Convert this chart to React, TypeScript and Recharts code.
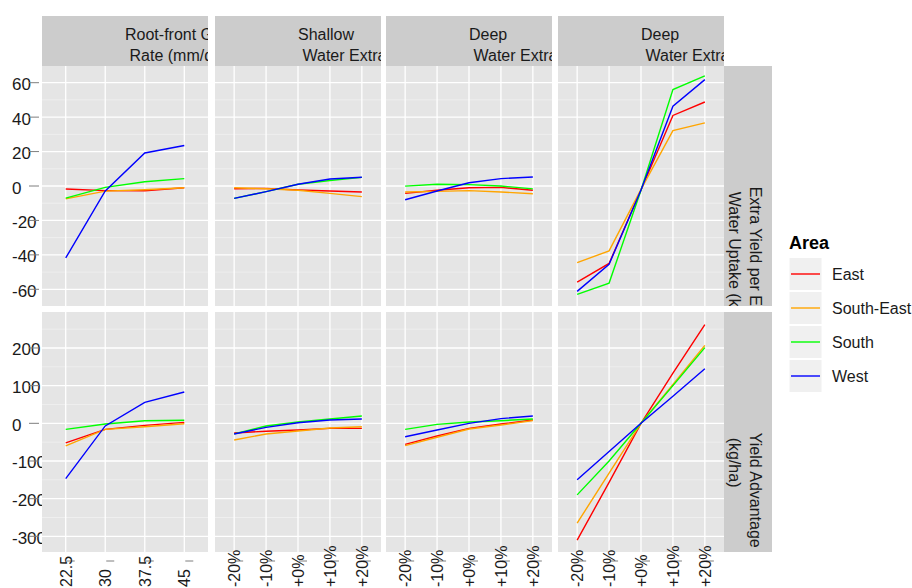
import React from "react";
import { LineChart, Line, XAxis, YAxis, CartesianGrid } from "recharts";

const areas = ["East", "South-East", "South", "West"];
const areaColors = ["#FF0000", "#FFA500", "#00FF00", "#0000FF"];

const growthRates = ["22.5", "30", "37.5", "45"];
const extractionLevels = ["-20%", "-10%", "+0%", "+10%", "+20%"];

const columnLabels = [
  ["Root-front Growth", "Rate (mm/day)"],
  ["Shallow", "Water Extraction"],
  ["Deep", "Water Extraction"],
  ["Deep", "Water Extraction Efficiency"],
];
const rowLabels = [
  ["Extra Yield per Extra", "Water Uptake (kg/ha/mm)"],
  ["Yield Advantage", "(kg/ha)"],
];

const uptakeTicks = [-60, -40, -20, 0, 20, 40, 60];
const uptakeMinor = [-50, -30, -10, 10, 30, 50];
const advantageTicks = [-300, -200, -100, 0, 100, 200];
const advantageMinor = [-250, -150, -50, 50, 150, 250];

// extra yield per extra water uptake
const rootEastUptake = [-1.7, -2.7, -2.8, -1];
const rootSouthEastUptake = [-7.5, -3, -2.2, -1];
const rootSouthUptake = [-7, -0.8, 2.5, 4.3];
const rootWestUptake = [-41.8, -2.9, 19.2, 23.5];

const shallowEastUptake = [-1.6, -1.4, -2.3, -2.9, -3.5];
const shallowSouthEastUptake = [-1, -1.6, -2.5, -4.3, -6.2];
const shallowSouthUptake = [-7.2, -3.3, 1, 3.2, 5];
const shallowWestUptake = [-7.2, -3.3, 1, 4.1, 5.1];

const deepEastUptake = [-4.3, -2.5, -1, -0.8, -2.5];
const deepSouthEastUptake = [-3.5, -3.1, -2.7, -3.5, -4.5];
const deepSouthUptake = [-0.1, 1, 0.8, 0, -1.7];
const deepWestUptake = [-8, -2.9, 1.9, 4.3, 5.2];

const effEastUptake = [-55.8, -45, -2.3, 41, 48.8];
const effSouthEastUptake = [-44.5, -37.7, -2, 32.2, 36.7];
const effSouthUptake = [-63, -56.4, -2.5, 56, 64];
const effWestUptake = [-61.2, -45.5, -2.3, 46.3, 61.8];

// yield advantage
const rootEastAdv = [-52, -16, -5.5, 2.5];
const rootSouthEastAdv = [-60, -16, -9, -1];
const rootSouthAdv = [-16, -2, 7, 8];
const rootWestAdv = [-147, -7, 55.7, 83];

const shallowEastAdv = [-25.7, -21, -17.7, -13.3, -13.3];
const shallowSouthEastAdv = [-44.3, -28.4, -20.4, -12.4, -9];
const shallowSouthAdv = [-28, -7, 3.5, 11.4, 19.4];
const shallowWestAdv = [-28.4, -10.7, 1.6, 8.8, 11.4];

const deepEastAdv = [-55.8, -33.6, -13.3, -1.8, 8.8];
const deepSouthEastAdv = [-59.4, -37, -15, -4.5, 7];
const deepSouthAdv = [-16, -2.7, 3.5, 7, 11.4];
const deepWestAdv = [-35.5, -17.7, 0, 12.4, 19.4];

const effEastAdv = [-310, -157, 0, 133, 262];
const effSouthEastAdv = [-265, -132, 0, 103, 207];
const effSouthAdv = [-190, -100, 0, 100, 201];
const effWestAdv = [-150, -75, 0, 72, 145];

const panelValues = [
  [
    [rootEastUptake, rootSouthEastUptake, rootSouthUptake, rootWestUptake],
    [shallowEastUptake, shallowSouthEastUptake, shallowSouthUptake, shallowWestUptake],
    [deepEastUptake, deepSouthEastUptake, deepSouthUptake, deepWestUptake],
    [effEastUptake, effSouthEastUptake, effSouthUptake, effWestUptake],
  ],
  [
    [rootEastAdv, rootSouthEastAdv, rootSouthAdv, rootWestAdv],
    [shallowEastAdv, shallowSouthEastAdv, shallowSouthAdv, shallowWestAdv],
    [deepEastAdv, deepSouthEastAdv, deepSouthAdv, deepWestAdv],
    [effEastAdv, effSouthEastAdv, effSouthAdv, effWestAdv],
  ],
];

const FONT = "'Liberation Sans', Arial, Helvetica, sans-serif";
const COL_X = [42, 215, 386, 558];
const ROW_Y = [66, 312];
const PW = 166;
const PH = 240;
const Y_AXIS_W = 42;
const X_AXIS_H = 36;

const rowAxes = [
  { domain: [-69.7, 69.7], ticks: uptakeTicks, minor: uptakeMinor },
  { domain: [-341.6, 295.5], ticks: advantageTicks, minor: advantageMinor },
];

const YTick = (props: any) => {
  const { y, payload } = props;
  return (
    <g>
      <svg x={0} y={y - 14} width={Y_AXIS_W} height={28} overflow="hidden">
        <text x={12} y={21.5} fontSize={17} fontFamily={FONT} fill="#1A1A1A">
          {payload.value}
        </text>
      </svg>
      <line x1={29} x2={39} y1={y} y2={y} stroke="#7F7F7F" strokeWidth={1} />
    </g>
  );
};

const makeXTick = (cats: string[]) => (props: any) => {
  const { x, payload } = props;
  return (
    <g>
      <line x1={x + 1} x2={x + 9} y1={PH + 9} y2={PH + 9} stroke="#7F7F7F" strokeWidth={1} />
      <text
        transform={`translate(${x + 6}, ${PH + 35}) rotate(-90)`}
        textAnchor="start"
        fontSize={16}
        fontFamily={FONT}
        fill="#1A1A1A"
      >
        {cats[payload.value]}
      </text>
    </g>
  );
};

function Panel({ row, col }: { row: number; col: number }) {
  const cats = col === 0 ? growthRates : extractionLevels;
  const series = panelValues[row][col];
  const data = cats.map((label, i) => {
    const o: any = { i, label };
    areas.forEach((a, k) => {
      o[a] = series[k][i];
    });
    return o;
  });
  const left = col === 0 ? Y_AXIS_W : 0;
  const bottom = row === 1 ? X_AXIS_H : 0;
  const width = PW + left;
  const height = PH + bottom;
  const axis = rowAxes[row];
  const idx = cats.map((_, i) => i);

  return (
    <div style={{ position: "absolute", left: COL_X[col] - left, top: ROW_Y[row], width, height }}>
      <LineChart width={width} height={height} data={data} margin={{ top: 0, right: 0, bottom: 0, left: 0 }}>
        <CartesianGrid
          horizontalValues={axis.minor}
          vertical={false}
          stroke="#F2F2F2"
          strokeWidth={0.7}
          fill="#E5E5E5"
          fillOpacity={1}
        />
        <CartesianGrid horizontalValues={axis.ticks} verticalValues={idx} stroke="#FFFFFF" strokeWidth={1.3} />
        <XAxis
          type="number"
          dataKey="i"
          domain={[-0.6, cats.length - 0.4]}
          ticks={idx}
          interval={0}
          hide={row !== 1}
          height={X_AXIS_H}
          axisLine={false}
          tickLine={false}
          tick={makeXTick(cats)}
        />
        <YAxis
          type="number"
          domain={axis.domain}
          ticks={axis.ticks}
          interval={0}
          hide={col !== 0}
          width={Y_AXIS_W}
          axisLine={false}
          tickLine={false}
          allowDataOverflow
          tick={YTick}
        />
        {areas.map((a, k) => (
          <Line
            key={a}
            type="linear"
            dataKey={a}
            stroke={areaColors[k]}
            strokeWidth={1.4}
            dot={false}
            isAnimationActive={false}
          />
        ))}
      </LineChart>
    </div>
  );
}

export default function App() {
  return (
    <div style={{ position: "absolute", left: 0, top: 0, width: 912, height: 588, background: "#FFFFFF", fontFamily: FONT }}>
      <svg style={{ position: "absolute", left: 0, top: 0 }} width={912} height={588}>
        {columnLabels.map((lines, c) => (
          <svg key={c} x={COL_X[c]} y={16} width={PW} height={50} overflow="hidden">
            <rect x={0} y={0} width={PW} height={50} fill="#CCCCCC" />
            <text x={PW / 2} y={23.5} fontSize={16} fontFamily={FONT} fill="#1A1A1A">
              {lines[0]}
            </text>
            <text x={PW / 2 + 4.5} y={45} fontSize={16} fontFamily={FONT} fill="#1A1A1A">
              {lines[1]}
            </text>
          </svg>
        ))}
        {rowLabels.map((lines, r) => (
          <svg key={r} x={724} y={ROW_Y[r]} width={48} height={PH} overflow="hidden">
            <rect x={0} y={0} width={48} height={PH} fill="#CCCCCC" />
            <text transform={`translate(26, ${PH / 2 + 0.7}) rotate(90)`} fontSize={16} fontFamily={FONT} fill="#1A1A1A">
              {lines[0]}
            </text>
            <text transform={`translate(4.5, ${PH / 2 + 5.7}) rotate(90)`} fontSize={16} fontFamily={FONT} fill="#1A1A1A">
              {lines[1]}
            </text>
          </svg>
        ))}
        <text x={789} y={249} fontSize={18} fontWeight="bold" fontFamily={FONT} fill="#000000">
          Area
        </text>
        {areas.map((a, k) => (
          <g key={a}>
            <rect x={789} y={257.5 + 34 * k} width={33} height={33} fill="#F0F0F0" stroke="#FFFFFF" strokeWidth={1} />
            <line x1={791} x2={820} y1={274 + 34 * k} y2={274 + 34 * k} stroke={areaColors[k]} strokeWidth={1.4} />
            <text x={832} y={274 + 34 * k + 5.8} fontSize={16} fontFamily={FONT} fill="#1A1A1A">
              {a}
            </text>
          </g>
        ))}
      </svg>
      {[0, 1].map((r) => [0, 1, 2, 3].map((c) => <Panel key={`${r}-${c}`} row={r} col={c} />))}
    </div>
  );
}
